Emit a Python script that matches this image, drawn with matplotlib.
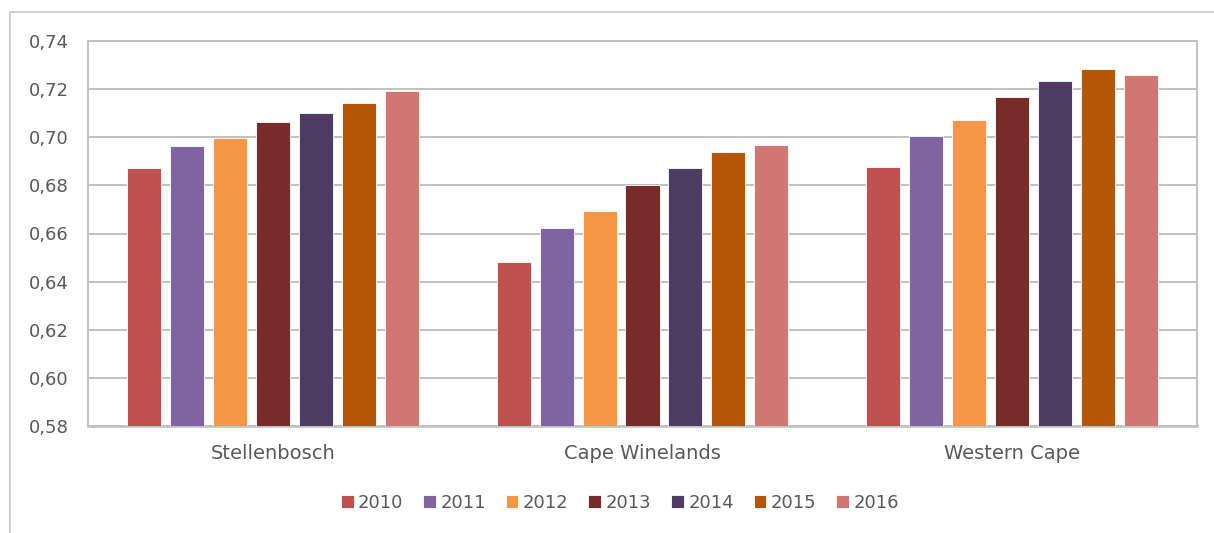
import matplotlib.pyplot as plt
import numpy as np
from matplotlib.ticker import FuncFormatter
from matplotlib.patches import Rectangle

regions = ['Stellenbosch', 'Cape Winelands', 'Western Cape']
years = ['2010', '2011', '2012', '2013', '2014', '2015', '2016']

# waarde per jaar, volgorde = regions
v2010 = [0.6872, 0.6482, 0.6878]
v2011 = [0.6964, 0.6624, 0.7004]
v2012 = [0.6996, 0.6695, 0.7073]
v2013 = [0.7062, 0.6803, 0.7169]
v2014 = [0.7099, 0.6873, 0.7235]
v2015 = [0.7141, 0.6937, 0.7285]
v2016 = [0.7194, 0.6968, 0.7259]
series = [v2010, v2011, v2012, v2013, v2014, v2015, v2016]

colors = ['#C0504D', '#8064A2', '#F79646', '#772C2A', '#4D3B62', '#B65708', '#D07673']

plt.rcParams['font.family'] = ['DejaVu Sans']
grey = '#595959'

fig = plt.figure(figsize=(12.14, 5.33), dpi=100)
ax = fig.add_axes([88 / 1214, 1 - 426 / 533, (1197 - 88) / 1214, (426 - 41) / 533])

# rand rond de hele grafiek (valt buiten beeld rechts/onder)
fig.patches.append(Rectangle((10 / 1214, -0.1), 1.2, 1 - 12 / 533 + 0.1,
                             transform=fig.transFigure, fill=False,
                             edgecolor='#C8C8C8', linewidth=1.2))

x = np.arange(len(regions))
pitch = 0.1163
width = 0.092
for i, vals in enumerate(series):
    ax.bar(x + (i - 3) * pitch, vals, width=width, color=colors[i],
           edgecolor='white', linewidth=0.6, label=years[i], zorder=3)

ax.set_ylim(0.58, 0.74)
ax.set_xlim(-0.5, 2.5)
ax.set_yticks(np.arange(0.58, 0.7401, 0.02))
ax.yaxis.set_major_formatter(FuncFormatter(lambda v, p: ('%.2f' % v).replace('.', ',')))
ax.set_xticks(x)
ax.set_xticklabels(regions)
ax.grid(axis='y', color='#C0C0C0', linewidth=1.4, zorder=0)
ax.tick_params(length=0, colors=grey)
ax.tick_params(axis='y', pad=14, labelsize=13)
ax.tick_params(axis='x', pad=13, labelsize=14)
for s in ax.spines.values():
    s.set_color('#C0C0C0')
    s.set_linewidth(1.4)
ax.spines['bottom'].set_linewidth(1.8)

fig.legend(loc='center', bbox_to_anchor=(620 / 1214, 1 - 503 / 533), ncol=7,
           frameon=False, fontsize=13, handlelength=0.7, handleheight=0.7,
           handletextpad=0.25, columnspacing=1.1, labelcolor=grey)

plt.savefig('out.png', dpi=100)
